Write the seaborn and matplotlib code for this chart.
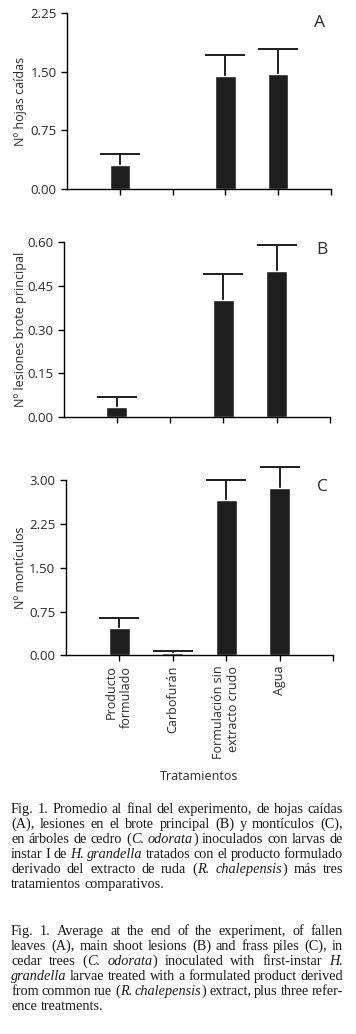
import numpy as np
import pandas as pd
import matplotlib
matplotlib.use("Agg")
from matplotlib import pyplot as plt
import seaborn as sb

# data (means and one-sided standard errors)
tratamientos = ['Producto\nformulado', 'Carbofurán', 'Formulación sin\nextracto crudo', 'Agua']
hojas_media = [0.31, 0.0, 1.445, 1.47]
hojas_ee = [0.135, 0.0, 0.265, 0.315]
lesiones_media = [0.035, 0.0, 0.402, 0.502]
lesiones_ee = [0.034, 0.0, 0.088, 0.088]
monticulos_media = [0.47, 0.04, 2.66, 2.87]
monticulos_ee = [0.165, 0.03, 0.34, 0.36]

ylabels = ['Nº hojas caídas', 'Nº lesiones brote principal', 'Nº montículos']
yticks = [[0, 0.75, 1.5, 2.25], [0, 0.15, 0.30, 0.45, 0.60], [0, 0.75, 1.5, 2.25, 3.0]]
letras = ['A', 'B', 'C']

caption_es = [
    "Fig. 1. Promedio al final del experimento, de hojas caídas",
    "(A), lesiones en el brote principal (B) y montículos (C),",
    "en árboles de cedro (*C. odorata*) inoculados con larvas de",
    "instar I de *H. grandella* tratados con el producto formulado",
    "derivado del extracto de ruda (*R. chalepensis*) más tres",
    "tratamientos comparativos.",
]
caption_en = [
    "Fig. 1. Average at the end of the experiment, of fallen",
    "leaves (A), main shoot lesions (B) and frass piles (C), in",
    "cedar trees (*C. odorata*) inoculated with first-instar *H.*",
    "*grandella* larvae treated with a formulated product derived",
    "from common rue (*R. chalepensis*) extract, plus three refer-",
    "ence treatments.",
]

sb.set_style("ticks")
plt.rcParams['font.family'] = ['Open Sans', 'DejaVu Sans']
txt = '#2a2a2a'

W, H = 356, 1034
fig = plt.figure(figsize=(W / 100, H / 100), dpi=100)

# axes boxes in pixels: left, top, right, bottom
boxes = [(67, 13, 331, 189), (63.5, 242, 330, 417.3), (65.7, 480.3, 333, 655.3)]
letra_pos = [(0.958, 0.943), (0.970, 0.954), (0.959, 0.962)]
medias = [hojas_media, lesiones_media, monticulos_media]
ees = [hojas_ee, lesiones_ee, monticulos_ee]

for i in range(3):
    l, t, r, b = boxes[i]
    ax = fig.add_axes([l / W, 1 - b / H, (r - l) / W, (b - t) / H])
    df = pd.DataFrame({'trat': tratamientos, 'media': medias[i], 'ee': ees[i]})
    sb.barplot(data=df, x='trat', y='media', order=tratamientos, color='#1e1e1e',
               width=0.39, saturation=1, errorbar=None, ax=ax, zorder=2)
    m = df[df['ee'] > 0]
    idx = [tratamientos.index(k) for k in m['trat']]
    eb = ax.errorbar(idx, m['media'], yerr=[np.zeros(len(m)), m['ee']], fmt='none',
                     ecolor='#1e1e1e', elinewidth=1.4, capsize=14.4, capthick=1.4,
                     clip_on=False, zorder=1)
    eb[1][0].remove()  # only the upper cap
    ax.set_xlim(-1, 4)
    ax.set_ylim(0, yticks[i][-1])
    ax.set_yticks(yticks[i])
    ax.set_yticklabels(['%.2f' % v for v in yticks[i]])
    ax.set_xticks([0, 1, 2, 3, 4])
    if i == 2:
        ax.set_xticklabels(tratamientos + [''], rotation=90, va='top', ha='center',
                           multialignment='right', fontsize=9)
        ax.set_xlabel('Tratamientos', fontsize=9, color=txt, labelpad=8)
    else:
        ax.set_xticklabels([])
        ax.set_xlabel('')
    ax.set_ylabel(ylabels[i], fontsize=9, color=txt)
    ax.yaxis.set_label_coords((27 - l) / (r - l), 0.5)
    ax.tick_params(axis='y', labelsize=9.5)
    ax.tick_params(axis='both', labelcolor=txt, length=4, width=1,
                   color='black', direction='out')
    for s in ['left', 'bottom']:
        ax.spines[s].set_color('black')
        ax.spines[s].set_linewidth(1)
    sb.despine(ax=ax)
    ax.text(letra_pos[i][0], letra_pos[i][1], letras[i], transform=ax.transAxes,
            fontsize=12.5, color=txt, ha='center', va='center')

# caption, justified word by word
fig.canvas.draw()
rend = fig.canvas.get_renderer()
cap_fs = 10.3


def width_of(s, ital):
    tt = fig.text(0, 0, s, family='Liberation Serif', fontsize=cap_fs,
                  style='italic' if ital else 'normal')
    w = tt.get_window_extent(rend).width
    tt.remove()
    return w


def draw_line(line, base_px, justify, x0=11, x1=343):
    words = []
    ital = False
    for w in line.split(' '):
        segs = []
        parts = w.split('*')
        for k, p in enumerate(parts):
            if k > 0:
                ital = not ital
            if p:
                segs.append((p, ital))
        words.append(segs)
    widths = [[width_of(s, it) for s, it in segs] for segs in words]
    tot = sum(sum(ws) for ws in widths)
    if justify and len(words) > 1:
        gap = (x1 - x0 - tot) / (len(words) - 1)
    else:
        gap = width_of('a a', False) - width_of('aa', False)
    x = x0
    for segs, ws in zip(words, widths):
        for (s, it), w in zip(segs, ws):
            fig.text(x / W, 1 - base_px / H, s, family='Liberation Serif', fontsize=cap_fs,
                     style='italic' if it else 'normal', color='#1a1a1a',
                     ha='left', va='baseline')
            x += w
        x += gap


for j, line in enumerate(caption_es):
    draw_line(line, 812.7 + 15 * j, j < len(caption_es) - 1)
for j, line in enumerate(caption_en):
    draw_line(line, 935 + 15 * j, j < len(caption_en) - 1)

fig.savefig('out.png', dpi=100)
